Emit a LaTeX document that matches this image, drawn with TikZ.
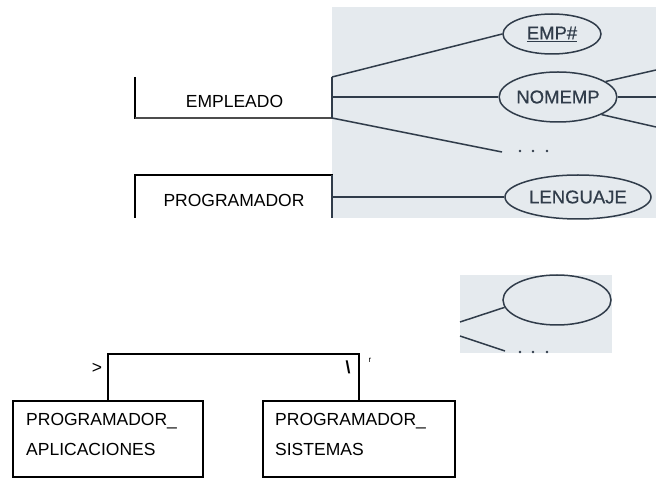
\documentclass[tikz,border=0pt]{standalone}
\usepackage{fontspec}
\setmainfont{Liberation Sans}
\newfontfamily\photofont{Liberation Sans}[FakeBold=0.6]
\usetikzlibrary{shapes.geometric}
\definecolor{photo}{RGB}{229,234,238}
\definecolor{ink}{RGB}{48,60,74}
\begin{document}
\begin{tikzpicture}[x=1pt,y=-1pt,
  lbl/.style={font=\fontsize{17.5}{21}\selectfont, inner sep=0pt},
  attr/.style={ellipse, draw=ink, line width=1.5pt, inner sep=0pt, text=ink,
    font=\photofont\fontsize{18.5}{22}\selectfont},
  pline/.style={draw=ink, line width=1.5pt},
  bline/.style={draw=black, line width=1.5pt},
  entbox/.style={draw=black, line width=1.8pt, inner sep=0pt, minimum height=76pt},
  dotm/.style={circle, fill=ink, inner sep=0pt, minimum size=2.8pt}]
\useasboundingbox (0,0) rectangle (656,478);
% photo backgrounds
\fill[photo] (332,7) rectangle (656,218);
\fill[photo] (460,275) rectangle (612,353);

% top entity fragments
\coordinate (eTL) at (135,77);
\coordinate (eBL) at (135,119);
\coordinate (eBR) at (332,118);
\draw[bline] (eTL) -- (eBL);
\draw[draw=black!70, line width=1.3pt] (135,118) -- (eBR);
\node[lbl] (empleado) at (234.5,101.5) {EMPLEADO};

\coordinate (pTL) at (135,175);
\coordinate (pBL) at (135,218);
\coordinate (pTR) at (333,175);
\draw[bline] (pBL) -- (pTL) -- (pTR);
\node[lbl] (programador) at (234,200) {PROGRAMADOR};

% attributes
\node[attr, minimum width=98pt, minimum height=40pt] (e1) at (552,34) {\underline{EMP\#}};
\node[attr, minimum width=108pt, minimum height=50pt] (e2) at (558,97) {NOMEMP};
\node[attr, minimum width=146pt, minimum height=44pt] (e3) at (578,197) {LENGUAJE};
\node[attr, minimum width=108pt, minimum height=50pt] (e4) at (557,300) {};

\coordinate (v1t) at (332,77);
\coordinate (v1m) at (332,97);
\coordinate (v1b) at (332,118);
\coordinate (v2t) at (332,175);
\coordinate (v2m) at (332,197);
\coordinate (v2b) at (332,218);
\draw[pline] (v1t) -- (v1b);
\draw[pline] (v2t) -- (v2b);
\draw[pline] (v1t) -- (e1.west);
\draw[pline] (v1m) -- (e2.west);
\coordinate (d0) at (502,152);
\draw[pline] (v1b) -- (d0);
\node[dotm] (d1) at (520,151) {};
\node[dotm] (d2) at (533,151) {};
\node[dotm] (d3) at (547,151) {};
\draw[pline] (v2m) -- (e3.west);

\coordinate (r1) at (656,70);
\coordinate (r2) at (656,97);
\coordinate (r3) at (656,127);
\draw[pline] (e2.18) -- (r1);
\draw[pline] (e2.east) -- (r2);
\draw[pline] (e2.-22) -- (r3);

% second photo fragment
\coordinate (q1) at (460,322);
\coordinate (q2) at (460,336);
\coordinate (q3) at (505,351);
\draw[pline] (q1) -- (e4.188);
\draw[pline] (q2) -- (q3);
\begin{scope}
\clip (460,275) rectangle (612,353);
\node[dotm] (f1) at (520,352) {};
\node[dotm] (f2) at (533,352) {};
\node[dotm] (f3) at (547,352) {};
\end{scope}

% subtype boxes
\node[entbox, minimum width=190pt] (pa) at (108,439) {};
\node[entbox, minimum width=192pt] (ps) at (359,439) {};
\node[lbl, anchor=base west] (pa1) at (26,425) {PROGRAMADOR\_};
\node[lbl, anchor=base west] (pa2) at (26,455) {APLICACIONES};
\node[lbl, anchor=base west] (ps1) at (275,425) {PROGRAMADOR\_};
\node[lbl, anchor=base west] (ps2) at (275,455) {SISTEMAS};
\draw[draw=black, line width=1.8pt] (pa.north) -- ++(0,-46) -| (ps.north);

\node[lbl] (gt) at (97,368) {>};
\node[lbl, font=\bfseries\fontsize{17.5}{21}\selectfont] (bs) at (348,367) {\textbackslash};
\node[font=\fontsize{8}{9}\selectfont, inner sep=0pt] (rr) at (370,360) {r};
\end{tikzpicture}
\end{document}
